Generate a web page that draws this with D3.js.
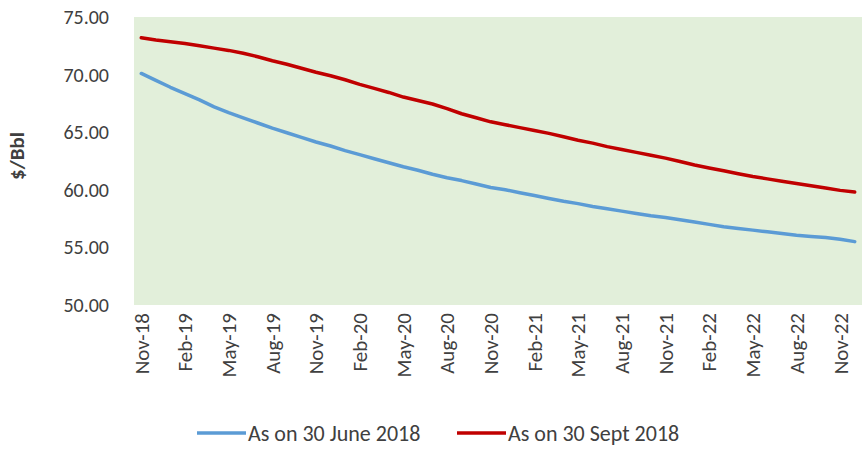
<!DOCTYPE html>
<meta charset="utf-8">
<title>Brent forward curve</title>
<style>
body { margin: 0; background: #fff; }
.axis text { font: 20px Carlito, Lato, sans-serif; fill: #404040; }
.axis path, .axis line { display: none; }
.xaxis text { font-size: 21px; }
.axislabel { font: bold 21px Carlito, Lato, sans-serif; fill: #404040; }
.legend text { font: 22px Carlito, Lato, sans-serif; fill: #404040; }
</style>
<svg class="chart"></svg>
<script src="https://cdnjs.cloudflare.com/ajax/libs/d3/7.8.5/d3.min.js"></script>
<script>

var months = ["Nov-18","Dec-18","Jan-19","Feb-19","Mar-19","Apr-19","May-19","Jun-19","Jul-19","Aug-19","Sep-19","Oct-19",
              "Nov-19","Dec-19","Jan-20","Feb-20","Mar-20","Apr-20","May-20","Jun-20","Jul-20","Aug-20","Sep-20","Oct-20",
              "Nov-20","Dec-20","Jan-21","Feb-21","Mar-21","Apr-21","May-21","Jun-21","Jul-21","Aug-21","Sep-21","Oct-21",
              "Nov-21","Dec-21","Jan-22","Feb-22","Mar-22","Apr-22","May-22","Jun-22","Jul-22","Aug-22","Sep-22","Oct-22",
              "Nov-22","Dec-22"];

var june2018 = [70.1,69.5,68.9,68.35,67.8,67.2,66.7,66.25,65.8,65.35,64.95,64.55,
                64.15,63.8,63.4,63.05,62.7,62.35,62.0,61.7,61.35,61.05,60.8,60.5,
                60.2,60.0,59.75,59.5,59.25,59.0,58.8,58.55,58.35,58.15,57.95,57.75,
                57.6,57.4,57.2,57.0,56.8,56.65,56.5,56.35,56.2,56.05,55.95,55.85,
                55.7,55.5];

var sept2018 = [73.2,73.0,72.85,72.7,72.5,72.3,72.1,71.85,71.55,71.2,70.9,70.55,
                70.2,69.9,69.55,69.15,68.8,68.45,68.05,67.75,67.45,67.05,66.6,66.25,
                65.9,65.65,65.4,65.15,64.9,64.6,64.3,64.05,63.75,63.5,63.25,63.0,
                62.75,62.45,62.15,61.9,61.65,61.4,61.15,60.95,60.75,60.55,60.35,60.15,
                59.95,59.8];

var yTicks = [50, 55, 60, 65, 70, 75];

var seriesNames = ["As on 30 June 2018", "As on 30 Sept 2018"];
var seriesColors = ["#5B9BD5", "#C00000"];

var W = 863, H = 449;
var margin = {top: 17, right: 1, bottom: 144, left: 134},
    width = W - margin.left - margin.right,
    height = H - margin.top - margin.bottom;

var svg = d3.select(".chart").attr("width", W).attr("height", H);
var chart = svg.append("g")
    .attr("transform", "translate(" + margin.left + "," + margin.top + ")");

var x = d3.scaleBand().domain(months).range([0, width]);
var y = d3.scaleLinear().domain([50, 75]).range([height, 0]);

chart.append("rect")
    .attr("width", width)
    .attr("height", height)
    .attr("fill", "#E2EFDA");

chart.append("g")
    .attr("class", "y axis")
    .attr("transform", "translate(-22,0)")
    .call(d3.axisLeft(y).tickValues(yTicks).tickSize(0).tickFormat(d3.format(".2f")));

// every third month gets a label
var xAxis = d3.axisBottom(x)
    .tickValues(months.filter(function(d, i) { return i % 3 === 0; }))
    .tickSize(0);

chart.append("g")
    .attr("class", "x axis xaxis")
    .attr("transform", "translate(0," + height + ")")
    .call(xAxis)
  .selectAll("text")
    .attr("transform", "rotate(-90)")
    .attr("x", -8)
    .attr("y", 0)
    .attr("dy", "0.35em")
    .style("text-anchor", "end");

chart.append("text")
    .attr("class", "axislabel")
    .attr("transform", "rotate(-90)")
    .attr("x", -(height / 2) + 5)
    .attr("y", 24 - margin.left)
    .style("text-anchor", "middle")
    .text("$/Bbl");

var line = d3.line()
    .x(function(d, i) { return x(months[i]) + x.bandwidth() / 2; })
    .y(function(d) { return y(d); });

[june2018, sept2018].forEach(function(s, k) {
  chart.append("path")
      .datum(s)
      .attr("fill", "none")
      .attr("stroke", seriesColors[k])
      .attr("stroke-width", 3.5)
      .attr("stroke-linejoin", "round")
      .attr("stroke-linecap", "round")
      .attr("d", line);
});

var legend = svg.append("g").attr("class", "legend");
var legendX = [197, 457];
seriesNames.forEach(function(name, k) {
  var g = legend.append("g").attr("transform", "translate(" + legendX[k] + ",433)");
  g.append("line")
      .attr("x1", 0).attr("x2", 49)
      .attr("stroke", seriesColors[k])
      .attr("stroke-width", 3.5);
  g.append("text")
      .attr("x", 51)
      .attr("dy", "0.35em")
      .text(name);
});

</script>
